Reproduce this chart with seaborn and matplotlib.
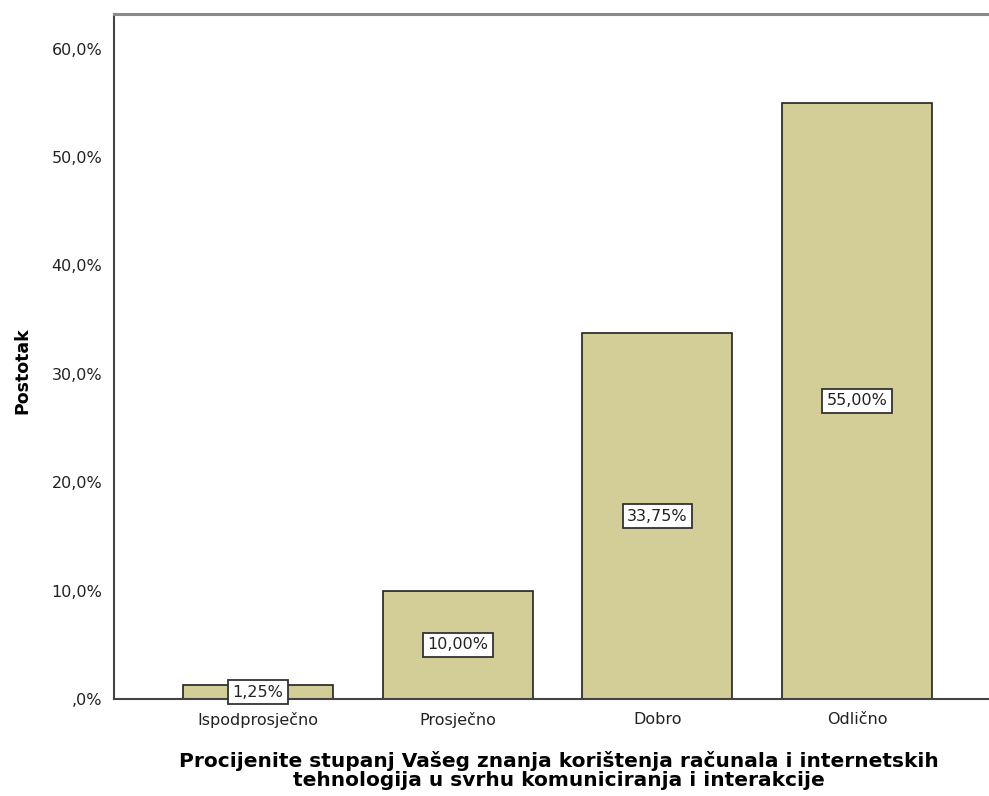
import pandas as pd
import matplotlib.pyplot as plt
import seaborn as sns
from matplotlib.ticker import FuncFormatter

# data
categories = ['Ispodprosječno', 'Prosječno', 'Dobro', 'Odlično']
postotak = [1.25, 10.00, 33.75, 55.00]

x_label = ('Procijenite stupanj Vašeg znanja korištenja računala i internetskih\n'
           'tehnologija u svrhu komuniciranja i interakcije')
y_label = 'Postotak'

df = pd.DataFrame({'kategorija': categories, 'postotak': postotak})

sns.set_style('white')
plt.rcParams['font.family'] = ['DejaVu Sans']

fig = plt.figure(figsize=(9.89, 7.96), dpi=100)
ax = fig.add_axes([0.1153, 0.1219, 0.8847, 0.8605])

sns.barplot(data=df, x='kategorija', y='postotak', color='#D3CE97',
            saturation=1, width=0.75, edgecolor='#222222', linewidth=1.2, ax=ax)

# value labels in white boxes, centred on each bar
labels = [f'{v:.2f}'.replace('.', ',') + '%' for v in postotak]
ax.bar_label(ax.containers[0], labels=labels, label_type='center', fontsize=11.5,
             color='#222222',
             bbox=dict(boxstyle='square,pad=0.28', facecolor='white',
                       edgecolor='#333333', linewidth=1.3))

def pct_fmt(v, pos):
    if v == 0:
        return ',0%'
    return f'{v:.1f}'.replace('.', ',') + '%'

ax.set_ylim(0, 63.2)
ax.set_xlim(-0.72, 3.66)
ax.set_yticks([0, 10, 20, 30, 40, 50, 60])
ax.yaxis.set_major_formatter(FuncFormatter(pct_fmt))

ax.tick_params(axis='both', direction='out', length=5, width=1.5,
               color='#333333', labelsize=11.5, labelcolor='#222222')
ax.tick_params(axis='x', length=6, labelsize=11.5)

ax.set_xlabel(x_label, fontsize=14.5, fontweight='bold', linespacing=1.0,
              color='black')
ax.xaxis.set_label_coords(0.508, -0.0765)
ax.set_ylabel(y_label, fontsize=12.5, fontweight='bold', color='black')
ax.yaxis.set_label_coords(-0.094, 0.48)

for side in ['left', 'bottom']:
    ax.spines[side].set_color('#444444')
    ax.spines[side].set_linewidth(1.5)
ax.spines['top'].set_color('#8a8a8a')
ax.spines['top'].set_linewidth(2.2)
ax.spines['right'].set_visible(False)

fig.savefig('out.png', dpi=100)
